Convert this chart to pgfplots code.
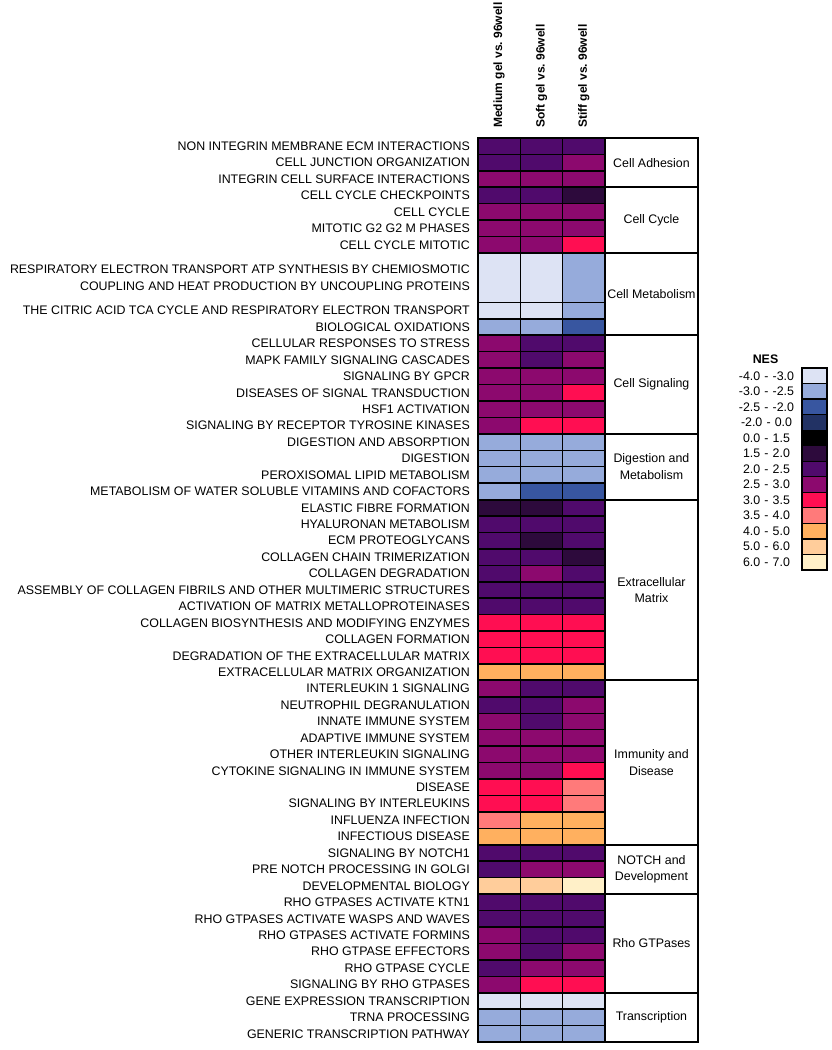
\documentclass[border=0pt]{standalone}
\usepackage{fontspec}
\setmainfont{Liberation Sans}
\usepackage{pgfplots}
\pgfplotsset{compat=1.18}
\usepgfplotslibrary{patchplots}
\begin{document}
\begin{tikzpicture}
\path[use as bounding box] (0pt,0pt) rectangle (832pt,1050pt);
\pgfplotsset{
  nesmap/.style={colormap={nes}{
    rgb255=(221,227,244)
    rgb255=(150,171,219)
    rgb255=(56,86,160)
    rgb255=(34,50,100)
    rgb255=(0,0,0)
    rgb255=(45,10,60)
    rgb255=(80,10,108)
    rgb255=(140,9,110)
    rgb255=(255,14,82)
    rgb255=(255,122,122)
    rgb255=(255,176,95)
    rgb255=(255,205,155)
    rgb255=(255,240,200)
  }},
}
\begin{axis}[
  at={(478pt,912pt)}, anchor=north west,
  scale only axis, width=220pt, height=904pt,
  xmin=0, xmax=5.2, ymin=0, ymax=55, y dir=reverse,
  clip=false,
  axis line style={draw=none},
  major tick length=0pt,
  xtick=\empty,
  ytick={0.5,1.5,2.5,3.5,4.5,5.5,6.5,8.5,10.5,11.5,12.5,13.5,14.5,15.5,16.5,17.5,18.5,19.5,20.5,21.5,22.5,23.5,24.5,25.5,26.5,27.5,28.5,29.5,30.5,31.5,32.5,33.5,34.5,35.5,36.5,37.5,38.5,39.5,40.5,41.5,42.5,43.5,44.5,45.5,46.5,47.5,48.5,49.5,50.5,51.5,52.5,53.5,54.5},
  yticklabels={
    NON INTEGRIN MEMBRANE ECM INTERACTIONS,
    CELL JUNCTION ORGANIZATION,
    INTEGRIN CELL SURFACE INTERACTIONS,
    CELL CYCLE CHECKPOINTS,
    CELL CYCLE,
    MITOTIC G2 G2 M PHASES,
    CELL CYCLE MITOTIC,
    {RESPIRATORY ELECTRON TRANSPORT ATP SYNTHESIS BY CHEMIOSMOTIC\\COUPLING AND HEAT PRODUCTION BY UNCOUPLING PROTEINS},
    THE CITRIC ACID TCA CYCLE AND RESPIRATORY ELECTRON TRANSPORT,
    BIOLOGICAL OXIDATIONS,
    CELLULAR RESPONSES TO STRESS,
    MAPK FAMILY SIGNALING CASCADES,
    SIGNALING BY GPCR,
    DISEASES OF SIGNAL TRANSDUCTION,
    HSF1 ACTIVATION,
    SIGNALING BY RECEPTOR TYROSINE KINASES,
    DIGESTION AND ABSORPTION,
    DIGESTION,
    PEROXISOMAL LIPID METABOLISM,
    METABOLISM OF WATER SOLUBLE VITAMINS AND COFACTORS,
    ELASTIC FIBRE FORMATION,
    HYALURONAN METABOLISM,
    ECM PROTEOGLYCANS,
    COLLAGEN CHAIN TRIMERIZATION,
    COLLAGEN DEGRADATION,
    ASSEMBLY OF COLLAGEN FIBRILS AND OTHER MULTIMERIC STRUCTURES,
    ACTIVATION OF MATRIX METALLOPROTEINASES,
    COLLAGEN BIOSYNTHESIS AND MODIFYING ENZYMES,
    COLLAGEN FORMATION,
    DEGRADATION OF THE EXTRACELLULAR MATRIX,
    EXTRACELLULAR MATRIX ORGANIZATION,
    INTERLEUKIN 1 SIGNALING,
    NEUTROPHIL DEGRANULATION,
    INNATE IMMUNE SYSTEM,
    ADAPTIVE IMMUNE SYSTEM,
    OTHER INTERLEUKIN SIGNALING,
    CYTOKINE SIGNALING IN IMMUNE SYSTEM,
    DISEASE,
    SIGNALING BY INTERLEUKINS,
    INFLUENZA INFECTION,
    INFECTIOUS DISEASE,
    SIGNALING BY NOTCH1,
    PRE NOTCH PROCESSING IN GOLGI,
    DEVELOPMENTAL BIOLOGY,
    RHO GTPASES ACTIVATE KTN1,
    RHO GTPASES ACTIVATE WASPS AND WAVES,
    RHO GTPASES ACTIVATE FORMINS,
    RHO GTPASE EFFECTORS,
    RHO GTPASE CYCLE,
    SIGNALING BY RHO GTPASES,
    GENE EXPRESSION TRANSCRIPTION,
    TRNA PROCESSING,
    GENERIC TRANSCRIPTION PATHWAY},
  yticklabel style={font=\fontsize{12.4}{16.5}\selectfont, align=right, inner sep=0pt, xshift=-8pt},
  nesmap,
]
% each cell: four corners, meta = NES class index (0: -4..-3, ..., 12: 6..7)
\addplot[patch, patch type=rectangle, shader=faceted, faceted color=black, line width=1.5pt,
  point meta=explicit, colormap access=direct] coordinates {
(0,0)[6] (1,0)[6] (1,1)[6] (0,1)[6]  (1,0)[6] (2,0)[6] (2,1)[6] (1,1)[6]  (2,0)[6] (3,0)[6] (3,1)[6] (2,1)[6]
(0,1)[6] (1,1)[6] (1,2)[6] (0,2)[6]  (1,1)[6] (2,1)[6] (2,2)[6] (1,2)[6]  (2,1)[7] (3,1)[7] (3,2)[7] (2,2)[7]
(0,2)[7] (1,2)[7] (1,3)[7] (0,3)[7]  (1,2)[7] (2,2)[7] (2,3)[7] (1,3)[7]  (2,2)[7] (3,2)[7] (3,3)[7] (2,3)[7]
(0,3)[6] (1,3)[6] (1,4)[6] (0,4)[6]  (1,3)[6] (2,3)[6] (2,4)[6] (1,4)[6]  (2,3)[5] (3,3)[5] (3,4)[5] (2,4)[5]
(0,4)[7] (1,4)[7] (1,5)[7] (0,5)[7]  (1,4)[7] (2,4)[7] (2,5)[7] (1,5)[7]  (2,4)[7] (3,4)[7] (3,5)[7] (2,5)[7]
(0,5)[7] (1,5)[7] (1,6)[7] (0,6)[7]  (1,5)[7] (2,5)[7] (2,6)[7] (1,6)[7]  (2,5)[7] (3,5)[7] (3,6)[7] (2,6)[7]
(0,6)[7] (1,6)[7] (1,7)[7] (0,7)[7]  (1,6)[7] (2,6)[7] (2,7)[7] (1,7)[7]  (2,6)[8] (3,6)[8] (3,7)[8] (2,7)[8]
(0,7)[0] (1,7)[0] (1,10)[0] (0,10)[0]  (1,7)[0] (2,7)[0] (2,10)[0] (1,10)[0]  (2,7)[1] (3,7)[1] (3,10)[1] (2,10)[1]
(0,10)[0] (1,10)[0] (1,11)[0] (0,11)[0]  (1,10)[0] (2,10)[0] (2,11)[0] (1,11)[0]  (2,10)[1] (3,10)[1] (3,11)[1] (2,11)[1]
(0,11)[1] (1,11)[1] (1,12)[1] (0,12)[1]  (1,11)[1] (2,11)[1] (2,12)[1] (1,12)[1]  (2,11)[2] (3,11)[2] (3,12)[2] (2,12)[2]
(0,12)[7] (1,12)[7] (1,13)[7] (0,13)[7]  (1,12)[6] (2,12)[6] (2,13)[6] (1,13)[6]  (2,12)[6] (3,12)[6] (3,13)[6] (2,13)[6]
(0,13)[7] (1,13)[7] (1,14)[7] (0,14)[7]  (1,13)[6] (2,13)[6] (2,14)[6] (1,14)[6]  (2,13)[7] (3,13)[7] (3,14)[7] (2,14)[7]
(0,14)[7] (1,14)[7] (1,15)[7] (0,15)[7]  (1,14)[7] (2,14)[7] (2,15)[7] (1,15)[7]  (2,14)[7] (3,14)[7] (3,15)[7] (2,15)[7]
(0,15)[7] (1,15)[7] (1,16)[7] (0,16)[7]  (1,15)[7] (2,15)[7] (2,16)[7] (1,16)[7]  (2,15)[8] (3,15)[8] (3,16)[8] (2,16)[8]
(0,16)[7] (1,16)[7] (1,17)[7] (0,17)[7]  (1,16)[7] (2,16)[7] (2,17)[7] (1,17)[7]  (2,16)[7] (3,16)[7] (3,17)[7] (2,17)[7]
(0,17)[7] (1,17)[7] (1,18)[7] (0,18)[7]  (1,17)[8] (2,17)[8] (2,18)[8] (1,18)[8]  (2,17)[8] (3,17)[8] (3,18)[8] (2,18)[8]
(0,18)[1] (1,18)[1] (1,19)[1] (0,19)[1]  (1,18)[1] (2,18)[1] (2,19)[1] (1,19)[1]  (2,18)[1] (3,18)[1] (3,19)[1] (2,19)[1]
(0,19)[1] (1,19)[1] (1,20)[1] (0,20)[1]  (1,19)[1] (2,19)[1] (2,20)[1] (1,20)[1]  (2,19)[1] (3,19)[1] (3,20)[1] (2,20)[1]
(0,20)[1] (1,20)[1] (1,21)[1] (0,21)[1]  (1,20)[1] (2,20)[1] (2,21)[1] (1,21)[1]  (2,20)[1] (3,20)[1] (3,21)[1] (2,21)[1]
(0,21)[1] (1,21)[1] (1,22)[1] (0,22)[1]  (1,21)[2] (2,21)[2] (2,22)[2] (1,22)[2]  (2,21)[2] (3,21)[2] (3,22)[2] (2,22)[2]
(0,22)[5] (1,22)[5] (1,23)[5] (0,23)[5]  (1,22)[5] (2,22)[5] (2,23)[5] (1,23)[5]  (2,22)[6] (3,22)[6] (3,23)[6] (2,23)[6]
(0,23)[6] (1,23)[6] (1,24)[6] (0,24)[6]  (1,23)[6] (2,23)[6] (2,24)[6] (1,24)[6]  (2,23)[6] (3,23)[6] (3,24)[6] (2,24)[6]
(0,24)[6] (1,24)[6] (1,25)[6] (0,25)[6]  (1,24)[5] (2,24)[5] (2,25)[5] (1,25)[5]  (2,24)[6] (3,24)[6] (3,25)[6] (2,25)[6]
(0,25)[6] (1,25)[6] (1,26)[6] (0,26)[6]  (1,25)[6] (2,25)[6] (2,26)[6] (1,26)[6]  (2,25)[5] (3,25)[5] (3,26)[5] (2,26)[5]
(0,26)[6] (1,26)[6] (1,27)[6] (0,27)[6]  (1,26)[7] (2,26)[7] (2,27)[7] (1,27)[7]  (2,26)[6] (3,26)[6] (3,27)[6] (2,27)[6]
(0,27)[6] (1,27)[6] (1,28)[6] (0,28)[6]  (1,27)[6] (2,27)[6] (2,28)[6] (1,28)[6]  (2,27)[6] (3,27)[6] (3,28)[6] (2,28)[6]
(0,28)[6] (1,28)[6] (1,29)[6] (0,29)[6]  (1,28)[6] (2,28)[6] (2,29)[6] (1,29)[6]  (2,28)[6] (3,28)[6] (3,29)[6] (2,29)[6]
(0,29)[8] (1,29)[8] (1,30)[8] (0,30)[8]  (1,29)[8] (2,29)[8] (2,30)[8] (1,30)[8]  (2,29)[8] (3,29)[8] (3,30)[8] (2,30)[8]
(0,30)[8] (1,30)[8] (1,31)[8] (0,31)[8]  (1,30)[8] (2,30)[8] (2,31)[8] (1,31)[8]  (2,30)[8] (3,30)[8] (3,31)[8] (2,31)[8]
(0,31)[8] (1,31)[8] (1,32)[8] (0,32)[8]  (1,31)[8] (2,31)[8] (2,32)[8] (1,32)[8]  (2,31)[8] (3,31)[8] (3,32)[8] (2,32)[8]
(0,32)[10] (1,32)[10] (1,33)[10] (0,33)[10]  (1,32)[10] (2,32)[10] (2,33)[10] (1,33)[10]  (2,32)[10] (3,32)[10] (3,33)[10] (2,33)[10]
(0,33)[7] (1,33)[7] (1,34)[7] (0,34)[7]  (1,33)[6] (2,33)[6] (2,34)[6] (1,34)[6]  (2,33)[6] (3,33)[6] (3,34)[6] (2,34)[6]
(0,34)[6] (1,34)[6] (1,35)[6] (0,35)[6]  (1,34)[6] (2,34)[6] (2,35)[6] (1,35)[6]  (2,34)[7] (3,34)[7] (3,35)[7] (2,35)[7]
(0,35)[7] (1,35)[7] (1,36)[7] (0,36)[7]  (1,35)[6] (2,35)[6] (2,36)[6] (1,36)[6]  (2,35)[7] (3,35)[7] (3,36)[7] (2,36)[7]
(0,36)[7] (1,36)[7] (1,37)[7] (0,37)[7]  (1,36)[7] (2,36)[7] (2,37)[7] (1,37)[7]  (2,36)[7] (3,36)[7] (3,37)[7] (2,37)[7]
(0,37)[7] (1,37)[7] (1,38)[7] (0,38)[7]  (1,37)[7] (2,37)[7] (2,38)[7] (1,38)[7]  (2,37)[7] (3,37)[7] (3,38)[7] (2,38)[7]
(0,38)[7] (1,38)[7] (1,39)[7] (0,39)[7]  (1,38)[7] (2,38)[7] (2,39)[7] (1,39)[7]  (2,38)[8] (3,38)[8] (3,39)[8] (2,39)[8]
(0,39)[8] (1,39)[8] (1,40)[8] (0,40)[8]  (1,39)[8] (2,39)[8] (2,40)[8] (1,40)[8]  (2,39)[9] (3,39)[9] (3,40)[9] (2,40)[9]
(0,40)[8] (1,40)[8] (1,41)[8] (0,41)[8]  (1,40)[8] (2,40)[8] (2,41)[8] (1,41)[8]  (2,40)[9] (3,40)[9] (3,41)[9] (2,41)[9]
(0,41)[9] (1,41)[9] (1,42)[9] (0,42)[9]  (1,41)[10] (2,41)[10] (2,42)[10] (1,42)[10]  (2,41)[10] (3,41)[10] (3,42)[10] (2,42)[10]
(0,42)[10] (1,42)[10] (1,43)[10] (0,43)[10]  (1,42)[10] (2,42)[10] (2,43)[10] (1,43)[10]  (2,42)[10] (3,42)[10] (3,43)[10] (2,43)[10]
(0,43)[6] (1,43)[6] (1,44)[6] (0,44)[6]  (1,43)[6] (2,43)[6] (2,44)[6] (1,44)[6]  (2,43)[6] (3,43)[6] (3,44)[6] (2,44)[6]
(0,44)[6] (1,44)[6] (1,45)[6] (0,45)[6]  (1,44)[7] (2,44)[7] (2,45)[7] (1,45)[7]  (2,44)[7] (3,44)[7] (3,45)[7] (2,45)[7]
(0,45)[11] (1,45)[11] (1,46)[11] (0,46)[11]  (1,45)[11] (2,45)[11] (2,46)[11] (1,46)[11]  (2,45)[12] (3,45)[12] (3,46)[12] (2,46)[12]
(0,46)[6] (1,46)[6] (1,47)[6] (0,47)[6]  (1,46)[6] (2,46)[6] (2,47)[6] (1,47)[6]  (2,46)[6] (3,46)[6] (3,47)[6] (2,47)[6]
(0,47)[6] (1,47)[6] (1,48)[6] (0,48)[6]  (1,47)[6] (2,47)[6] (2,48)[6] (1,48)[6]  (2,47)[6] (3,47)[6] (3,48)[6] (2,48)[6]
(0,48)[7] (1,48)[7] (1,49)[7] (0,49)[7]  (1,48)[6] (2,48)[6] (2,49)[6] (1,49)[6]  (2,48)[6] (3,48)[6] (3,49)[6] (2,49)[6]
(0,49)[7] (1,49)[7] (1,50)[7] (0,50)[7]  (1,49)[6] (2,49)[6] (2,50)[6] (1,50)[6]  (2,49)[7] (3,49)[7] (3,50)[7] (2,50)[7]
(0,50)[6] (1,50)[6] (1,51)[6] (0,51)[6]  (1,50)[7] (2,50)[7] (2,51)[7] (1,51)[7]  (2,50)[7] (3,50)[7] (3,51)[7] (2,51)[7]
(0,51)[7] (1,51)[7] (1,52)[7] (0,52)[7]  (1,51)[8] (2,51)[8] (2,52)[8] (1,52)[8]  (2,51)[8] (3,51)[8] (3,52)[8] (2,52)[8]
(0,52)[0] (1,52)[0] (1,53)[0] (0,53)[0]  (1,52)[0] (2,52)[0] (2,53)[0] (1,53)[0]  (2,52)[0] (3,52)[0] (3,53)[0] (2,53)[0]
(0,53)[1] (1,53)[1] (1,54)[1] (0,54)[1]  (1,53)[1] (2,53)[1] (2,54)[1] (1,54)[1]  (2,53)[1] (3,53)[1] (3,54)[1] (2,54)[1]
(0,54)[1] (1,54)[1] (1,55)[1] (0,55)[1]  (1,54)[1] (2,54)[1] (2,55)[1] (1,55)[1]  (2,54)[1] (3,54)[1] (3,55)[1] (2,55)[1]
};
% group separators and frames
\pgfplotsinvokeforeach{3,7,12,18,22,33,43,46,52}{
  \draw[line width=1.9pt] (axis cs:0,#1) -- (axis cs:5.2,#1);
}
\draw[line width=1.9pt] (axis cs:3,0) -- (axis cs:3,55);
\draw[line width=2.2pt] (axis cs:0,0) rectangle (axis cs:5.2,55);
% group names
\begin{scope}[every node/.style={font=\fontsize{12.4}{16.5}\selectfont, align=center}]
\node at (axis cs:4.1,1.5) {Cell Adhesion};
\node at (axis cs:4.1,5) {Cell Cycle};
\node at (axis cs:4.1,9.5) {Cell Metabolism};
\node at (axis cs:4.1,15) {Cell Signaling};
\node at (axis cs:4.1,20) {Digestion and\\Metabolism};
\node at (axis cs:4.1,27.5) {Extracellular\\Matrix};
\node at (axis cs:4.1,38) {Immunity and\\Disease};
\node at (axis cs:4.1,44.5) {NOTCH and\\Development};
\node at (axis cs:4.1,49) {Rho GTPases};
\node at (axis cs:4.1,53.5) {Transcription};
\end{scope}
% column headers
\begin{scope}[every node/.style={rotate=90, anchor=west, inner sep=0pt, font=\fontsize{12}{14}\bfseries\selectfont}]
\node at (axis cs:0.5,-0.6) {Medium gel vs.\ 96well};
\node at (axis cs:1.5,-0.6) {Soft gel vs.\ 96well};
\node at (axis cs:2.5,-0.6) {Stiff gel vs.\ 96well};
\end{scope}
\end{axis}
% legend
\begin{axis}[
  at={(801.7pt,682pt)}, anchor=north west,
  scale only axis, width=25.3pt, height=202pt,
  xmin=0, xmax=1, ymin=0, ymax=13, y dir=reverse,
  clip=false,
  axis line style={draw=none},
  major tick length=0pt,
  xtick=\empty,
  ytick={0.5,1.5,2.5,3.5,4.5,5.5,6.5,7.5,8.5,9.5,10.5,11.5,12.5},
  yticklabels={-4.0 - -3.0,-3.0 - -2.5,-2.5 - -2.0,-2.0 - 0.0,0.0 - 1.5,1.5 - 2.0,2.0 - 2.5,2.5 - 3.0,3.0 - 3.5,3.5 - 4.0,4.0 - 5.0,5.0 - 6.0,6.0 - 7.0},
  yticklabel style={font=\fontsize{12.4}{14}\selectfont, text width=58pt, align=center, inner sep=0pt, xshift=-6pt},
  nesmap,
]
\addplot[patch, patch type=rectangle, shader=faceted, faceted color=black, line width=1.2pt,
  point meta=explicit, colormap access=direct] coordinates {
(0,0)[0] (1,0)[0] (1,1)[0] (0,1)[0]
(0,1)[1] (1,1)[1] (1,2)[1] (0,2)[1]
(0,2)[2] (1,2)[2] (1,3)[2] (0,3)[2]
(0,3)[3] (1,3)[3] (1,4)[3] (0,4)[3]
(0,4)[4] (1,4)[4] (1,5)[4] (0,5)[4]
(0,5)[5] (1,5)[5] (1,6)[5] (0,6)[5]
(0,6)[6] (1,6)[6] (1,7)[6] (0,7)[6]
(0,7)[7] (1,7)[7] (1,8)[7] (0,8)[7]
(0,8)[8] (1,8)[8] (1,9)[8] (0,9)[8]
(0,9)[9] (1,9)[9] (1,10)[9] (0,10)[9]
(0,10)[10] (1,10)[10] (1,11)[10] (0,11)[10]
(0,11)[11] (1,11)[11] (1,12)[11] (0,12)[11]
(0,12)[12] (1,12)[12] (1,13)[12] (0,13)[12]
};
\draw[line width=1.6pt] (axis cs:0,0) rectangle (axis cs:1,13);
\node[font=\fontsize{12.4}{14}\bfseries\selectfont] at (axis cs:-1.43,-0.55) {NES};
\end{axis}
\end{tikzpicture}
\end{document}
